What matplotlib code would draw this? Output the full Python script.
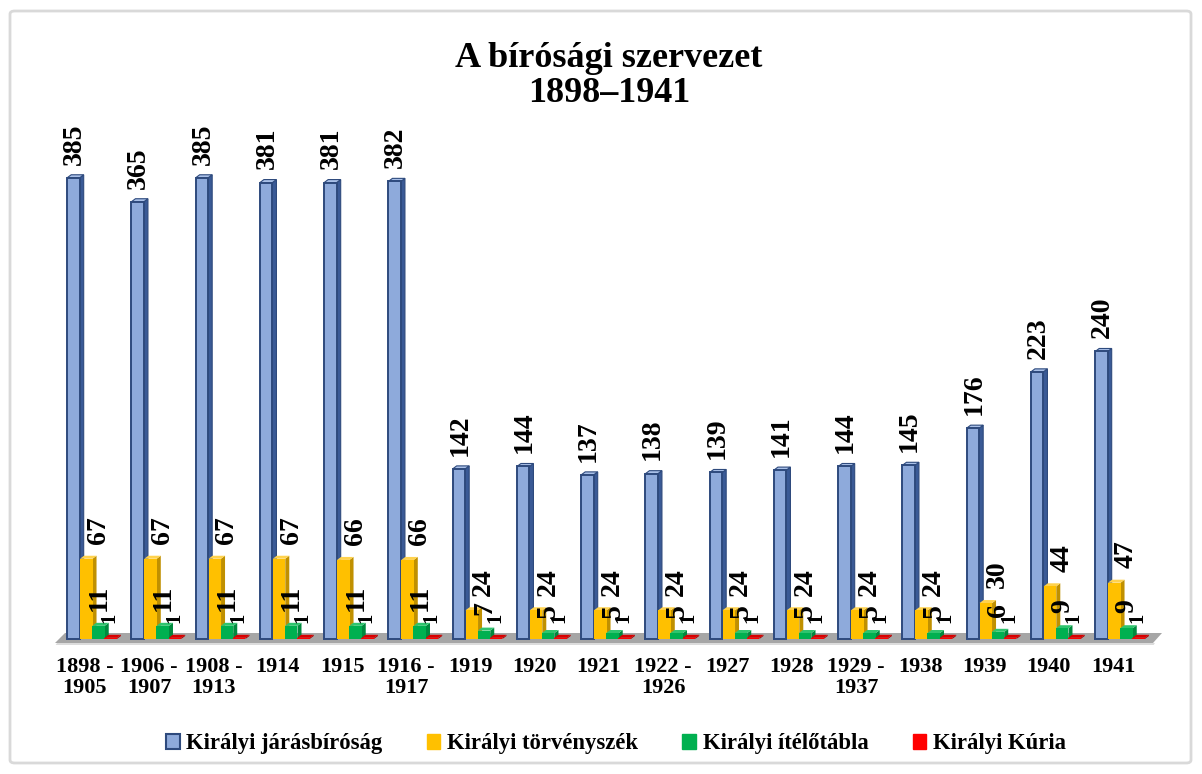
import matplotlib
matplotlib.use("Agg")
import matplotlib.pyplot as plt
from matplotlib.patches import Patch, FancyBboxPatch

categories = ["1898 -\n1905", "1906 -\n1907", "1908 -\n1913", "1914", "1915",
              "1916 -\n1917", "1919", "1920", "1921", "1922 -\n1926", "1927",
              "1928", "1929 -\n1937", "1938", "1939", "1940", "1941"]
jarasbirosag = [385, 365, 385, 381, 381, 382, 142, 144, 137, 138, 139, 141, 144, 145, 176, 223, 240]
torvenyszek = [67, 67, 67, 67, 66, 66, 24, 24, 24, 24, 24, 24, 24, 24, 30, 44, 47]
itelotabla = [11, 11, 11, 11, 11, 11, 7, 5, 5, 5, 5, 5, 5, 5, 6, 9, 9]
kuria = [1] * 17
series_names = ["Királyi járásbíróság", "Királyi törvényszék", "Királyi ítélőtábla", "Királyi Kúria"]

W, H = 1202, 774
plt.rcParams['font.family'] = ['Liberation Serif', 'DejaVu Serif']
fig = plt.figure(figsize=(W / 100, H / 100), dpi=100)

# pixel-calibrated axes
PX_X0, PX_DX = 85.0, 64.25      # px of group 0, px per group
PX_Y0, PX_DY = 639.0, 1.198     # px of value 0, px per unit
L, R, B, T = 40, 1170, 645, 100
ax = fig.add_axes([L / W, (H - B) / H, (R - L) / W, (B - T) / H])
ax.set_xlim((L - PX_X0) / PX_DX, (R - PX_X0) / PX_DX)
ax.set_ylim((PX_Y0 - B) / PX_DY, (PX_Y0 - T) / PX_DY)
ax.axis('off')

def ux(px):
    return px / PX_DX

def uy(px):
    return px / PX_DY

# floor
fx0, fx1 = (55 - PX_X0) / PX_DX, (1153 - PX_X0) / PX_DX
fy_front, fy_back = (PX_Y0 - 643) / PX_DY, (PX_Y0 - 633) / PX_DY
ax.fill([fx0, fx1, fx1 + ux(2), fx0 + ux(2)],
        [fy_front - uy(3), fy_front - uy(3), fy_front, fy_front],
        color='#dcdcdc', zorder=0.5, lw=0)
ax.fill([fx0, fx1, fx1 + ux(9), fx0 + ux(10)],
        [fy_front, fy_front, fy_back, fy_back],
        color='#a6a6a6', zorder=1, lw=0)

w = ux(12.5)
dx, dy = ux(4), uy(3)
specs = [
    (jarasbirosag, -0.18, '#8eaadb', '#3a5a96', '#a9c0e8', '#2e4a7d', 1.0, 9.5),
    (torvenyszek, 0.02, '#ffc000', '#c09000', '#ffd24d', '#ffc000', 12.0, 10.5),
    (itelotabla, 0.21, '#00b050', '#008a3e', '#2fc46e', '#00b050', 0.5, 11.0),
    (kuria, 0.40, '#ff0000', '#b00000', '#d80000', '#ff0000', -1.0, 11.0),
]
n = len(categories)
for k, (vals, off, face, side, top, edge, lab_dx_px, gap_pt) in enumerate(specs):
    xs = [i + off for i in range(n)]
    z = 2 + k
    lw = 1.4 if k == 0 else 0
    ax.bar(xs, vals, width=w, color=face, edgecolor=edge, linewidth=lw, zorder=z + 0.2)
    for x, v in zip(xs, vals):
        xr, xl = x + w / 2, x - w / 2
        ax.fill([xr, xr + dx, xr + dx, xr], [0, dy, v + dy, v], color=side,
                ec=edge if k == 0 else side, lw=0.8 if k == 0 else 0, zorder=z + 0.1)
        ax.fill([xl, xl + dx, xr + dx, xr], [v, v + dy, v + dy, v], color=top,
                ec=edge if k == 0 else top, lw=0.8 if k == 0 else 0, zorder=z + 0.1)
        ax.annotate(str(v), xy=(x, v), xytext=(lab_dx_px * 0.72, gap_pt),
                    textcoords='offset points', rotation=90, ha='center', va='bottom',
                    fontsize=20 if k < 3 else 15, fontweight='bold', color='black',
                    zorder=20, annotation_clip=False)

# category labels
for i, c in enumerate(categories):
    ax.text(i, (PX_Y0 - 657) / PX_DY, c, ha='center', va='top', fontsize=16,
            fontweight='bold', linespacing=1.07, clip_on=False)

# title
fig.text(609 / W, 1 - 76 / H, "A bírósági szervezet\n1898–1941", ha='center', va='center',
         fontsize=26, fontweight='bold', linespacing=1.09)

# legend
handles = [Patch(facecolor='#8eaadb', edgecolor='#2e4a7d', lw=1.5),
           Patch(facecolor='#ffc000', edgecolor='#ffc000'),
           Patch(facecolor='#00b050', edgecolor='#00b050'),
           Patch(facecolor='#ff0000', edgecolor='#ff0000')]
leg = fig.legend(handles, series_names, loc='center', bbox_to_anchor=(616 / W, 1 - 744 / H),
                 ncol=4, frameon=False, handlelength=0.6, handleheight=0.6,
                 handletextpad=0.3, columnspacing=1.95,
                 prop={'family': 'Liberation Serif', 'weight': 'bold', 'size': 16.3})

# outer frame
frame = FancyBboxPatch((10 / W, 11 / H), 1181 / W, 752 / H, boxstyle='round,pad=0,rounding_size=0.004',
                       transform=fig.transFigure, fill=False, ec='#d9d9d9', lw=2)
fig.patches.append(frame)

fig.savefig('out.png', dpi=100)
